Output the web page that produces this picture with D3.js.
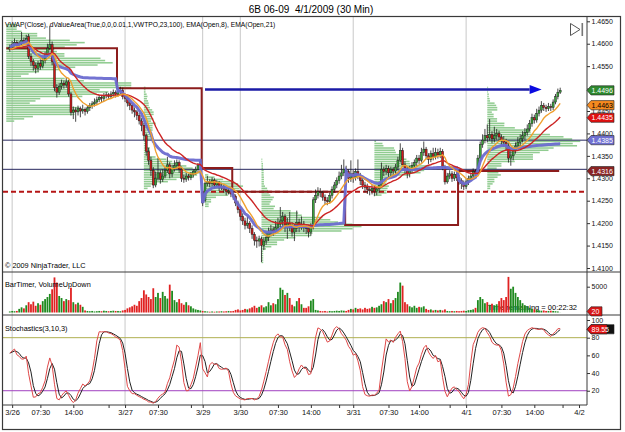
<!DOCTYPE html>
<html><head><meta charset="utf-8">
<script src="https://cdn.jsdelivr.net/npm/d3@7/dist/d3.min.js"></script>
<style>
html,body{margin:0;padding:0;background:#fff;}
svg{display:block;font-family:"Liberation Sans",Arial,sans-serif;}
</style></head><body>
<svg id="chart" width="625" height="432"></svg>
<script>
// ---------------- DATA (30-minute bars, 6B 06-09) ----------------
const opens=[1.4588,1.4592,1.4598,1.4603,1.4596,1.4600,1.4608,1.4604,1.4616,1.4572,
1.4560,1.4552,1.4545,1.4556,1.4550,1.4562,1.4575,1.4590,1.4598,1.4560,
1.4502,1.4492,1.4505,1.4512,1.4508,1.4515,1.4488,1.4447,1.4452,1.4448,
1.4455,1.4450,1.4454,1.4449,1.4457,1.4462,1.4466,1.4470,1.4475,1.4480,
1.4478,1.4484,1.4486,1.4482,1.4488,1.4491,1.4487,1.4494,1.4496,1.4482,
1.4478,1.4468,1.4462,1.4452,1.4448,1.4440,1.4428,1.4418,1.4395,1.4360,
1.4340,1.4318,1.4285,1.4300,1.4312,1.4298,1.4305,1.4318,1.4330,1.4310,
1.4322,1.4328,1.4335,1.4320,1.4300,1.4298,1.4305,1.4302,1.4308,1.4315,
1.4320,1.4328,1.4268,1.4250,1.4288,1.4292,1.4288,1.4296,1.4285,1.4290,
1.4280,1.4282,1.4275,1.4270,1.4272,1.4265,1.4260,1.4245,1.4230,1.4215,
1.4205,1.4195,1.4200,1.4188,1.4175,1.4162,1.4160,1.4165,1.4150,1.4160,
1.4168,1.4178,1.4185,1.4182,1.4190,1.4198,1.4205,1.4215,1.4192,1.4200,
1.4195,1.4180,1.4188,1.4202,1.4192,1.4198,1.4190,1.4188,1.4180,1.4192,
1.4252,1.4262,1.4270,1.4268,1.4258,1.4250,1.4248,1.4262,1.4275,1.4285,
1.4295,1.4305,1.4312,1.4320,1.4315,1.4300,1.4310,1.4302,1.4315,1.4305,
1.4295,1.4285,1.4280,1.4275,1.4272,1.4278,1.4270,1.4276,1.4285,1.4320,
1.4315,1.4322,1.4312,1.4320,1.4316,1.4325,1.4340,1.4362,1.4330,1.4318,
1.4310,1.4320,1.4328,1.4335,1.4345,1.4340,1.4358,1.4365,1.4350,1.4342,
1.4355,1.4348,1.4358,1.4352,1.4360,1.4325,1.4292,1.4305,1.4310,1.4300,
1.4308,1.4302,1.4295,1.4288,1.4282,1.4292,1.4300,1.4305,1.4315,1.4312,
1.4345,1.4375,1.4385,1.4395,1.4390,1.4398,1.4388,1.4395,1.4400,1.4392,
1.4385,1.4380,1.4372,1.4345,1.4350,1.4362,1.4372,1.4380,1.4388,1.4395,
1.4402,1.4410,1.4422,1.4435,1.4430,1.4445,1.4452,1.4462,1.4458,1.4455,
1.4460,1.4458,1.4470,1.4482,1.4492];
const highs=[1.4598,1.4606,1.4612,1.4608,1.4606,1.4626,1.4614,1.4620,1.4622,1.4578,
1.4566,1.4558,1.4562,1.4565,1.4568,1.4582,1.4600,1.4640,1.4605,1.4566,
1.4510,1.4512,1.4520,1.4518,1.4524,1.4520,1.4492,1.4460,1.4458,1.4462,
1.4460,1.4464,1.4458,1.4462,1.4468,1.4472,1.4478,1.4482,1.4486,1.4484,
1.4490,1.4492,1.4490,1.4494,1.4498,1.4496,1.4500,1.4504,1.4502,1.4488,
1.4482,1.4474,1.4466,1.4458,1.4452,1.4446,1.4434,1.4424,1.4400,1.4368,
1.4348,1.4325,1.4315,1.4345,1.4318,1.4320,1.4326,1.4348,1.4336,1.4330,
1.4340,1.4342,1.4340,1.4326,1.4308,1.4312,1.4310,1.4314,1.4320,1.4326,
1.4334,1.4342,1.4272,1.4292,1.4305,1.4298,1.4302,1.4300,1.4296,1.4294,
1.4290,1.4286,1.4280,1.4278,1.4276,1.4270,1.4264,1.4250,1.4236,1.4222,
1.4212,1.4215,1.4205,1.4195,1.4180,1.4170,1.4172,1.4170,1.4168,1.4180,
1.4190,1.4196,1.4192,1.4205,1.4212,1.4236,1.4225,1.4220,1.4212,1.4225,
1.4202,1.4198,1.4228,1.4210,1.4215,1.4205,1.4198,1.4195,1.4200,1.4258,
1.4275,1.4280,1.4278,1.4272,1.4264,1.4258,1.4268,1.4282,1.4292,1.4302,
1.4315,1.4330,1.4342,1.4328,1.4320,1.4340,1.4318,1.4322,1.4342,1.4312,
1.4300,1.4292,1.4288,1.4282,1.4286,1.4284,1.4282,1.4292,1.4335,1.4326,
1.4330,1.4328,1.4326,1.4325,1.4332,1.4348,1.4378,1.4368,1.4338,1.4325,
1.4328,1.4336,1.4342,1.4352,1.4352,1.4368,1.4382,1.4370,1.4356,1.4362,
1.4368,1.4368,1.4366,1.4368,1.4365,1.4330,1.4312,1.4318,1.4316,1.4315,
1.4314,1.4308,1.4300,1.4295,1.4298,1.4306,1.4312,1.4322,1.4320,1.4352,
1.4382,1.4398,1.4410,1.4420,1.4432,1.4405,1.4415,1.4410,1.4406,1.4398,
1.4394,1.4388,1.4378,1.4362,1.4370,1.4380,1.4392,1.4398,1.4405,1.4412,
1.4420,1.4430,1.4444,1.4442,1.4455,1.4460,1.4472,1.4468,1.4464,1.4468,
1.4466,1.4476,1.4488,1.4500,1.4502];
const lows=[1.4582,1.4588,1.4594,1.4590,1.4590,1.4596,1.4598,1.4600,1.4566,1.4550,
1.4540,1.4534,1.4538,1.4542,1.4545,1.4556,1.4570,1.4585,1.4552,1.4494,
1.4480,1.4486,1.4498,1.4500,1.4502,1.4482,1.4440,1.4432,1.4426,1.4440,
1.4436,1.4444,1.4440,1.4444,1.4450,1.4455,1.4460,1.4464,1.4470,1.4470,
1.4472,1.4478,1.4476,1.4478,1.4482,1.4480,1.4482,1.4488,1.4476,1.4470,
1.4460,1.4452,1.4444,1.4436,1.4430,1.4420,1.4405,1.4385,1.4350,1.4330,
1.4305,1.4278,1.4280,1.4295,1.4288,1.4292,1.4300,1.4312,1.4300,1.4302,
1.4315,1.4320,1.4312,1.4292,1.4290,1.4292,1.4295,1.4296,1.4302,1.4308,
1.4314,1.4320,1.4238,1.4246,1.4282,1.4280,1.4282,1.4278,1.4280,1.4272,
1.4274,1.4268,1.4262,1.4264,1.4258,1.4252,1.4238,1.4222,1.4206,1.4196,
1.4186,1.4188,1.4178,1.4165,1.4150,1.4145,1.4148,1.4113,1.4140,1.4152,
1.4160,1.4170,1.4172,1.4176,1.4182,1.4188,1.4190,1.4180,1.4165,1.4182,
1.4170,1.4160,1.4180,1.4180,1.4185,1.4180,1.4176,1.4168,1.4172,1.4186,
1.4245,1.4255,1.4258,1.4250,1.4242,1.4240,1.4244,1.4255,1.4268,1.4278,
1.4288,1.4298,1.4305,1.4305,1.4290,1.4292,1.4290,1.4295,1.4298,1.4285,
1.4276,1.4268,1.4265,1.4262,1.4264,1.4260,1.4262,1.4268,1.4280,1.4305,
1.4308,1.4302,1.4305,1.4306,1.4310,1.4318,1.4335,1.4325,1.4310,1.4300,
1.4302,1.4312,1.4320,1.4328,1.4332,1.4335,1.4350,1.4342,1.4332,1.4336,
1.4340,1.4342,1.4344,1.4345,1.4318,1.4286,1.4288,1.4298,1.4292,1.4294,
1.4294,1.4286,1.4276,1.4274,1.4276,1.4285,1.4294,1.4300,1.4304,1.4308,
1.4340,1.4368,1.4378,1.4380,1.4384,1.4378,1.4380,1.4386,1.4382,1.4374,
1.4370,1.4362,1.4335,1.4328,1.4340,1.4355,1.4365,1.4372,1.4380,1.4386,
1.4395,1.4404,1.4415,1.4422,1.4424,1.4438,1.4446,1.4450,1.4448,1.4450,
1.4450,1.4452,1.4465,1.4476,1.4488];
const closes=[1.4592,1.4598,1.4603,1.4596,1.4600,1.4608,1.4604,1.4612,1.4572,1.4560,
1.4552,1.4545,1.4556,1.4550,1.4562,1.4575,1.4590,1.4598,1.4560,1.4502,
1.4492,1.4505,1.4512,1.4508,1.4515,1.4488,1.4447,1.4452,1.4448,1.4455,
1.4450,1.4454,1.4449,1.4457,1.4462,1.4466,1.4470,1.4475,1.4480,1.4478,
1.4484,1.4486,1.4482,1.4488,1.4491,1.4487,1.4494,1.4496,1.4482,1.4478,
1.4468,1.4462,1.4452,1.4448,1.4440,1.4428,1.4418,1.4395,1.4360,1.4340,
1.4318,1.4285,1.4300,1.4312,1.4298,1.4305,1.4318,1.4330,1.4310,1.4322,
1.4328,1.4335,1.4320,1.4300,1.4298,1.4305,1.4302,1.4308,1.4315,1.4320,
1.4328,1.4338,1.4245,1.4288,1.4292,1.4288,1.4296,1.4285,1.4290,1.4280,
1.4282,1.4275,1.4270,1.4272,1.4265,1.4260,1.4245,1.4230,1.4215,1.4205,
1.4195,1.4200,1.4188,1.4175,1.4162,1.4160,1.4165,1.4150,1.4160,1.4168,
1.4178,1.4185,1.4182,1.4190,1.4198,1.4205,1.4215,1.4192,1.4200,1.4195,
1.4180,1.4188,1.4202,1.4192,1.4198,1.4190,1.4188,1.4180,1.4192,1.4252,
1.4262,1.4270,1.4268,1.4258,1.4250,1.4248,1.4262,1.4275,1.4285,1.4295,
1.4305,1.4312,1.4320,1.4315,1.4300,1.4310,1.4302,1.4315,1.4305,1.4295,
1.4285,1.4280,1.4275,1.4272,1.4278,1.4270,1.4276,1.4285,1.4320,1.4315,
1.4322,1.4312,1.4320,1.4316,1.4325,1.4340,1.4362,1.4330,1.4318,1.4310,
1.4320,1.4328,1.4335,1.4345,1.4340,1.4358,1.4365,1.4350,1.4342,1.4355,
1.4348,1.4358,1.4352,1.4360,1.4325,1.4292,1.4305,1.4310,1.4300,1.4308,
1.4302,1.4295,1.4288,1.4282,1.4292,1.4300,1.4305,1.4315,1.4312,1.4345,
1.4375,1.4385,1.4395,1.4390,1.4398,1.4388,1.4395,1.4400,1.4392,1.4385,
1.4380,1.4372,1.4345,1.4350,1.4362,1.4372,1.4380,1.4388,1.4395,1.4402,
1.4410,1.4422,1.4435,1.4430,1.4445,1.4452,1.4462,1.4458,1.4455,1.4460,
1.4458,1.4470,1.4482,1.4492,1.4496];
const volumes=[200,300,250,300,700,1000,800,1400,2000,1600,
2100,1300,1800,1500,2200,2600,3000,3600,4500,6800,
5800,3200,2800,2200,2600,2400,4800,2000,1600,1900,
1500,1100,400,300,250,300,200,250,300,250,
350,300,250,300,350,300,300,250,400,500,
800,1000,1200,1500,1300,2200,2800,4300,3500,3000,
2600,4700,3000,3800,2800,4000,3200,2700,5400,4200,
2400,2000,2600,1800,1500,2000,1400,1200,800,600,
500,400,300,250,200,150,200,150,200,200,
250,200,250,300,250,300,500,600,400,500,
700,600,800,1000,1300,900,1100,1400,1000,1200,
2000,1400,1800,1600,2600,4800,4400,3400,3800,2800,
1500,1200,2200,2800,1600,900,900,1200,2300,2600,
500,400,300,250,300,200,300,250,300,350,
300,400,350,300,500,700,600,900,700,800,
600,900,700,800,1100,900,1000,1300,1600,2200,
2000,2600,1800,2400,2800,4000,5800,5200,2000,1600,
1200,1000,1300,900,1100,1000,1200,700,500,600,
400,500,400,500,400,600,300,250,300,250,
300,250,300,350,300,450,500,600,900,2400,
3000,2600,1800,2000,1500,1700,1400,1600,2200,2800,
2400,3000,6900,4600,5000,3800,3000,2400,1800,1400,
1200,900,700,600,500,400,350,400,300,300,
350,300,250,200,20];

// sessions (bar index where each dValueArea / VWAP session begins)
const sessionStarts=[0,46,82,95,143,191];
const prevSessionPOC=[1.4590,1.4501,1.4323,1.4270,1.4196,1.4316];
const profileStartBars=[-1.5,57,83,107,155,203];

// x-axis ticks
const dayTickIdx=[1,49,82,98,146,194];
const tickIdx=[1,13,27,42,49,63,77,82,98,114,128,140,146,161,174,187,194,209,223,235,242];
const tickLabels=["3/26","07:30","14:00","","3/27","07:30","","3/29","3/30","07:30","14:00","","3/31","07:30","14:00","","4/1","07:30","14:00","","4/2"];
const priceTicks=[1.4100,1.4150,1.4200,1.4250,1.4300,1.4350,1.4400,1.4450,1.4500,1.4550,1.4600,1.4650];
const volumeTicks=[5000];
const stochTicks=[20,40,60,80,100];
const stochLevels=[80,20];

// drawn objects
const navyLines=[1.4385,1.4320];
const dashedLines=[1.4270];
const arrowBars=[83,221];
const arrowPrice=[1.4498];

// right-axis value markers
const priceTagValues=[1.4496,1.4463,1.4435,1.4385,1.4316];
const priceTagColors=["#2f8a2f","#f58a1f","#e01010","#7070d2","#8a2323"];
const priceTagText=["#fff","#000","#fff","#fff","#fff"];
const stochTagValue=[89.55];
const volumeTagValue=[20];

// ---------------- INDICATORS ----------------
function ema(src,n){const k=2/(n+1);const o=[];src.forEach((v,i)=>o.push(i?o[i-1]+k*(v-o[i-1]):v));return o;}
const ema8=ema(opens,8), ema21=ema(opens,21);
const vwap=[];{let pv=0,vv=0;closes.forEach((c,i)=>{if(sessionStarts.includes(i)){pv=0;vv=0;}pv+=c*volumes[i];vv+=volumes[i];vwap.push(pv/vv);});}
const nom=[],den=[],K=[],D=[];
closes.forEach((c,i)=>{const a=Math.max(0,i-9);const lo=d3.min(lows.slice(a,i+1)),hi=d3.max(highs.slice(a,i+1));nom.push(c-lo);den.push(hi-lo);
 const b=Math.max(0,i-2);const sn=d3.sum(nom.slice(b,i+1)),sd=d3.sum(den.slice(b,i+1));K.push(sd>0?100*sn/sd:50);
 D.push(d3.mean(K.slice(b,i+1)));});

// ---------------- SCALES ----------------
const svg=d3.select("#chart");
const PL=3,PR=587;
const panels={price:[17,272],vol:[272,315],stoch:[315,405]};
const x=d3.scaleLinear().domain([0,234]).range([9.8,560.2]);
const y=d3.scaleLinear().domain([1.41,1.465]).range([268,21.3]);
const yv=d3.scaleLinear().domain([0,5000]).range([312.5,286.7]);
const ys=d3.scaleLinear().domain([0,100]).range([408.4,320]);

const defs=svg.append("defs");
Object.entries(panels).forEach(([k,[t,b]])=>defs.append("clipPath").attr("id","clip-"+k)
  .append("rect").attr("x",PL).attr("y",t).attr("width",PR-PL).attr("height",b-t));

// title
svg.append("text").attr("x",311).attr("y",12.5).attr("text-anchor","middle").attr("font-size",10)
  .style("white-space","pre").text("6B 06-09  4/1/2009 (30 Min)");

// day gridlines
svg.append("g").selectAll("line").data(dayTickIdx).join("line")
  .attr("x1",d=>x(d)).attr("x2",d=>x(d)).attr("y1",17).attr("y2",405)
  .attr("stroke","#c8c8c8").attr("stroke-width",1);

// ---------------- PRICE PANEL ----------------
const gp=svg.append("g").attr("clip-path","url(#clip-price)");
// volume profiles
const bs=0.0005;
sessionStarts.forEach((s0,si)=>{
  const s1=si<sessionStarts.length-1?sessionStarts[si+1]:closes.length;
  const m=new Map();
  for(let i=s0;i<s1;i++){const b0=Math.floor(lows[i]/bs+1e-7),b1=Math.floor(highs[i]/bs+1e-7);const n=b1-b0+1;
    for(let b=b0;b<=b1;b++)m.set(b,(m.get(b)||0)+volumes[i]/n);}
  const mx=d3.max([...m.values()]);
  const maxW=[125,57,38,100,55,93][si];
  const px=x(profileStartBars[si]);
  gp.append("g").selectAll("rect").data([...m.entries()]).join("rect")
    .attr("x",px).attr("y",d=>y((d[0]+1)*bs)+0.35)
    .attr("height",d=>Math.max(0.8,y(d[0]*bs)-y((d[0]+1)*bs)-0.7))
    .attr("width",d=>Math.max(0.8,d[1]/mx*maxW))
    .attr("fill","#85c685").attr("fill-opacity",0.9);
});
// horizontal lines
gp.selectAll(".navy").data(navyLines).join("line").attr("x1",PL).attr("x2",PR)
  .attr("y1",d=>y(d)).attr("y2",d=>y(d)).attr("stroke","#26265e").attr("stroke-width",1);
gp.selectAll(".dash").data(dashedLines).join("line").attr("x1",PL).attr("x2",PR)
  .attr("y1",d=>y(d)).attr("y2",d=>y(d)).attr("stroke","#b51515").attr("stroke-width",2).attr("stroke-dasharray","5,3");
// prior-session POC step line
const pocPts=sessionStarts.map((s,i)=>[i?x(s)-1:x(profileStartBars[0]),y(prevSessionPOC[i])]);
pocPts.push([x(closes.length-1)-1,y(prevSessionPOC[prevSessionPOC.length-1])]);
gp.append("path").attr("d",d3.line().curve(d3.curveStepAfter)(pocPts))
  .attr("fill","none").attr("stroke","#8c1c1c").attr("stroke-width",2);
// candles
const idx=d3.range(closes.length);
gp.append("g").selectAll("line").data(idx).join("line")
  .attr("x1",i=>x(i)).attr("x2",i=>x(i)).attr("y1",i=>y(highs[i])).attr("y2",i=>y(lows[i]))
  .attr("stroke","#1a1a1a").attr("stroke-width",0.8);
gp.append("g").selectAll("rect").data(idx).join("rect")
  .attr("x",i=>x(i)-1).attr("width",2)
  .attr("y",i=>y(Math.max(opens[i],closes[i])))
  .attr("height",i=>Math.max(0.8,Math.abs(y(opens[i])-y(closes[i]))))
  .attr("fill",i=>closes[i]>=opens[i]?"#3aa33a":"#cc1a1a")
  .attr("stroke","#1a1a1a").attr("stroke-width",0.45);
// EMAs and VWAP
const ln=arr=>d3.line().x((d,i)=>x(i)).y(d=>y(d))(arr);
gp.append("path").attr("d",ln(vwap)).attr("fill","none").attr("stroke","#6b6bd0").attr("stroke-width",3).attr("stroke-opacity",0.95);
gp.append("path").attr("d",ln(ema21)).attr("fill","none").attr("stroke","#cc2424").attr("stroke-width",1.4);
gp.append("path").attr("d",ln(ema8)).attr("fill","none").attr("stroke","#f0a030").attr("stroke-width",1.4);
// arrow
const ay=y(arrowPrice[0]);
gp.append("line").attr("x1",x(arrowBars[0])).attr("x2",x(arrowBars[1])).attr("y1",ay).attr("y2",ay)
  .attr("stroke","#1a1aa6").attr("stroke-width",2.5);
gp.append("path").attr("d",`M${x(arrowBars[1])},${ay-4.5}L${x(arrowBars[1])+12},${ay}L${x(arrowBars[1])},${ay+4.5}Z`).attr("fill","#0b0be0");

// ---------------- VOLUME PANEL ----------------
svg.append("text").attr("x",577).attr("y",310).attr("text-anchor","end").attr("font-size",7.5).text("Time remaining = 00:22:32");
const gv=svg.append("g").attr("clip-path","url(#clip-vol)");
gv.selectAll("rect").data(idx).join("rect")
  .attr("x",i=>x(i)-0.9).attr("width",1.8)
  .attr("y",i=>yv(volumes[i])).attr("height",i=>yv(0)-yv(volumes[i]))
  .attr("fill",i=>closes[i]>=opens[i]?"#1f8a1f":"#e02222");

// ---------------- STOCHASTICS PANEL ----------------
const gs=svg.append("g").attr("clip-path","url(#clip-stoch)");
gs.selectAll("line").data(stochLevels).join("line").attr("x1",PL).attr("x2",PR)
  .attr("y1",d=>ys(d)).attr("y2",d=>ys(d)).attr("stroke",d=>d===80?"#b0b050":"#a040c0").attr("stroke-width",1);
const sl=arr=>d3.line().x((d,i)=>x(i)).y(d=>ys(d))(arr);
gs.append("path").attr("d",sl(D)).attr("fill","none").attr("stroke","#222").attr("stroke-width",1);
gs.append("path").attr("d",sl(K)).attr("fill","none").attr("stroke","#e04848").attr("stroke-width",1);

// ---------------- FRAMES & AXES ----------------
const fr=svg.append("g").attr("stroke","#3a3a3a").attr("fill","none");
fr.append("rect").attr("x",2.5).attr("y",16.5).attr("width",618).attr("height",413).attr("stroke-width",1.2);
fr.append("line").attr("x1",2.5).attr("x2",620.5).attr("y1",272).attr("y2",272).attr("stroke-width",1.2);
fr.append("line").attr("x1",2.5).attr("x2",620.5).attr("y1",315).attr("y2",315).attr("stroke-width",1.2);
fr.append("line").attr("x1",587).attr("x2",587).attr("y1",17).attr("y2",405);
fr.append("line").attr("x1",2.5).attr("x2",587).attr("y1",405).attr("y2",405);

function styleAxis(g){g.select(".domain").remove();g.selectAll("line").attr("stroke","#333");g.selectAll("text").attr("font-size",7).attr("fill","#111").attr("font-family","Liberation Sans,Arial,sans-serif");}
// price labels hidden behind a marker are not drawn
const hiddenByTag=v=>priceTagValues.some(t=>Math.abs(y(t)-y(v))<3);
svg.append("g").attr("transform","translate(587,0)")
  .call(d3.axisRight(y).tickValues(priceTicks).tickSize(3).tickPadding(1.5).tickFormat(v=>hiddenByTag(v)?"":d3.format(".4f")(v))).call(styleAxis);
svg.append("g").attr("transform","translate(587,0)")
  .call(d3.axisRight(yv).tickValues(volumeTicks).tickSize(3).tickPadding(1.5).tickFormat(d3.format("d"))).call(styleAxis);
svg.append("g").attr("transform","translate(587,0)")
  .call(d3.axisRight(ys).tickValues(stochTicks).tickSize(3).tickPadding(1.5).tickFormat(d3.format("d"))).call(styleAxis);
svg.append("g").attr("transform","translate(0,405)")
  .call(d3.axisBottom(x).tickValues(tickIdx).tickSize(3).tickPadding(2).tickFormat((d,i)=>tickLabels[i])).call(styleAxis)
  .selectAll("text").attr("font-size",7.5);

// tags
function tagShape(yy,fill,w){
  svg.append("path").attr("d",`M587,${yy}L591,${yy-4.6}L${587+w},${yy-4.6}L${587+w},${yy+4.6}L591,${yy+4.6}Z`)
    .attr("fill",fill).attr("stroke","#222").attr("stroke-width",0.6);
}
function tagText(yy,label,tf){svg.append("text").attr("x",591.5).attr("y",yy+2.5).attr("font-size",7).attr("fill",tf).text(label);}
priceTagValues.forEach((v,i)=>{tagShape(y(v),priceTagColors[i],27);tagText(y(v),d3.format(".4f")(v),priceTagText[i]);});
const sy=ys(stochTagValue[0]);
tagShape(sy,"#111",27);tagShape(sy,"#e01010",20);tagText(sy,d3.format(".2f")(stochTagValue[0]),"#fff");
const vy=yv(volumeTagValue[0])-1;
tagShape(vy,"#d81818",15);tagText(vy,String(volumeTagValue[0]),"#fff");

// labels
svg.append("text").attr("x",5).attr("y",26.5).attr("font-size",6.7).text("VWAP(Close), dValueArea(True,0,0,0.01,1,VWTPO,23,100), EMA(Open,8), EMA(Open,21)");
svg.append("text").attr("x",5).attr("y",268).attr("font-size",7.3).text("© 2009 NinjaTrader, LLC");
svg.append("text").attr("x",5).attr("y",286.5).attr("font-size",7.3).text("BarTimer, VolumeUpDown");
svg.append("text").attr("x",5).attr("y",330.5).attr("font-size",7.3).text("Stochastics(3,10,3)");
// "go to last bar" icon
svg.append("path").attr("d","M570.5,23.5L580,29.5L570.5,35.5Z").attr("fill","none").attr("stroke","#555").attr("stroke-width",1);
svg.append("rect").attr("x",581.5).attr("y",23).attr("width",1.6).attr("height",13).attr("fill","#777");
</script>
</body></html>
